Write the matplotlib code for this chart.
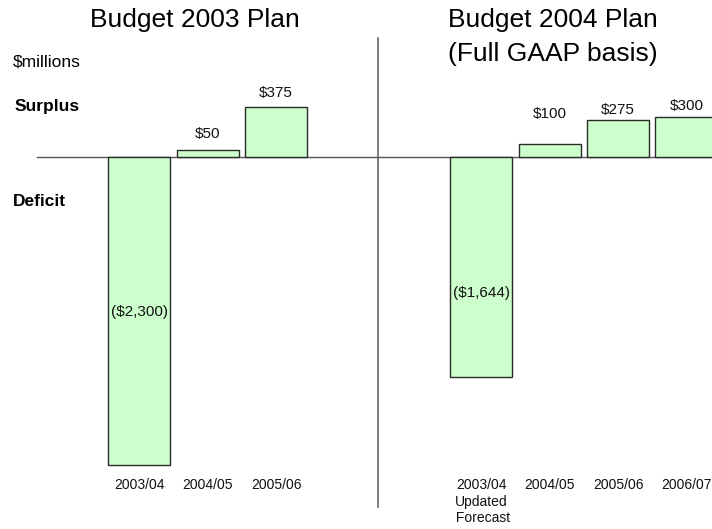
import matplotlib
matplotlib.use("Agg")
import matplotlib.pyplot as plt

plt.rcParams['font.family'] = ['Liberation Sans', 'DejaVu Sans']

# Budget 2003 plan
plan03_years = ["2003/04", "2004/05", "2005/06"]
plan03_values = [-2300, 50, 375]

# Budget 2004 plan (full GAAP basis)
plan04_years = ["2003/04\nUpdated\n Forecast", "2004/05", "2005/06", "2006/07"]
plan04_values = [-1644, 100, 275, 300]

W, H = 712, 529
fig = plt.figure(figsize=(W / 100, H / 100), dpi=100)
ax = fig.add_axes([0, 0, 1, 1])
ax.axis('off')

step = 68.4          # pixels between bar centres
x0 = 139.3           # pixel position of the first bar
ax.set_xlim(-x0 / step, (W - x0) / step)
mpp = 2300 / 308.0   # $millions per pixel
ax.set_ylim(-(H - 157) * mpp, 157 * mpp)

pos03 = [0, 1, 2]
pos04 = [5, 6, 7, 8]

def money(v):
    s = "${:,}".format(abs(v))
    return "(" + s + ")" if v < 0 else s

def ypix(p):
    # axes fraction from a pixel row measured from the top
    return 1 - p / H

fill = "#ccffcc"
edge = "#2a2a2a"
bw = 0.91

ax.bar(pos03, plan03_values, width=bw, color=fill, edgecolor=edge, linewidth=1.0, zorder=2)
ax.bar(pos04, plan04_values, width=bw, color=fill, edgecolor=edge, linewidth=1.0, zorder=2)

# zero line and divider between the two plans
ax.axhline(0, xmin=37 / W, xmax=1, color="#555555", linewidth=1.0, zorder=1)
ax.axvline((378.3 - x0) / step, ymin=ypix(507), ymax=ypix(38), color="#666666", linewidth=1.2)

# gap (px) between bar top and label centre, fraction of bar for negatives
pos_gap = {1: 16, 2: 14, 6: 30, 7: 10, 8: 11}
neg_frac = {0: 0.502, 5: 0.62}

for p, v in zip(pos03 + pos04, plan03_values + plan04_values):
    if v >= 0:
        ax.annotate(money(v), (p, v), xytext=(0, pos_gap[p] * 0.72), textcoords="offset points",
                    ha="center", va="center", fontsize=11, color="#111111")
    else:
        ax.text(p, v * neg_frac[p], money(v), ha="center", va="center", fontsize=11, color="#111111")

# category labels
xf = ax.get_xaxis_transform()
for p, lab in zip(pos03 + pos04, plan03_years + plan04_years):
    ax.text(p, ypix(478), lab, transform=xf, ha="center", va="top",
            fontsize=10, linespacing=1.25, color="#111111")

fig.text(195 / W, ypix(20), "Budget 2003 Plan", ha="center", va="center", fontsize=19)
fig.text(553 / W, ypix(20), "Budget 2004 Plan", ha="center", va="center", fontsize=19)
fig.text(553 / W, ypix(54), "(Full GAAP basis)", ha="center", va="center", fontsize=19)

fig.text(13 / W, ypix(62), "$millions", ha="left", va="center", fontsize=12.5)
fig.text(15 / W, ypix(106), "Surplus", ha="left", va="center", fontsize=12.5, fontweight="bold")
fig.text(13 / W, ypix(201), "Deficit", ha="left", va="center", fontsize=12.5, fontweight="bold")

fig.savefig("out.png", dpi=100)
